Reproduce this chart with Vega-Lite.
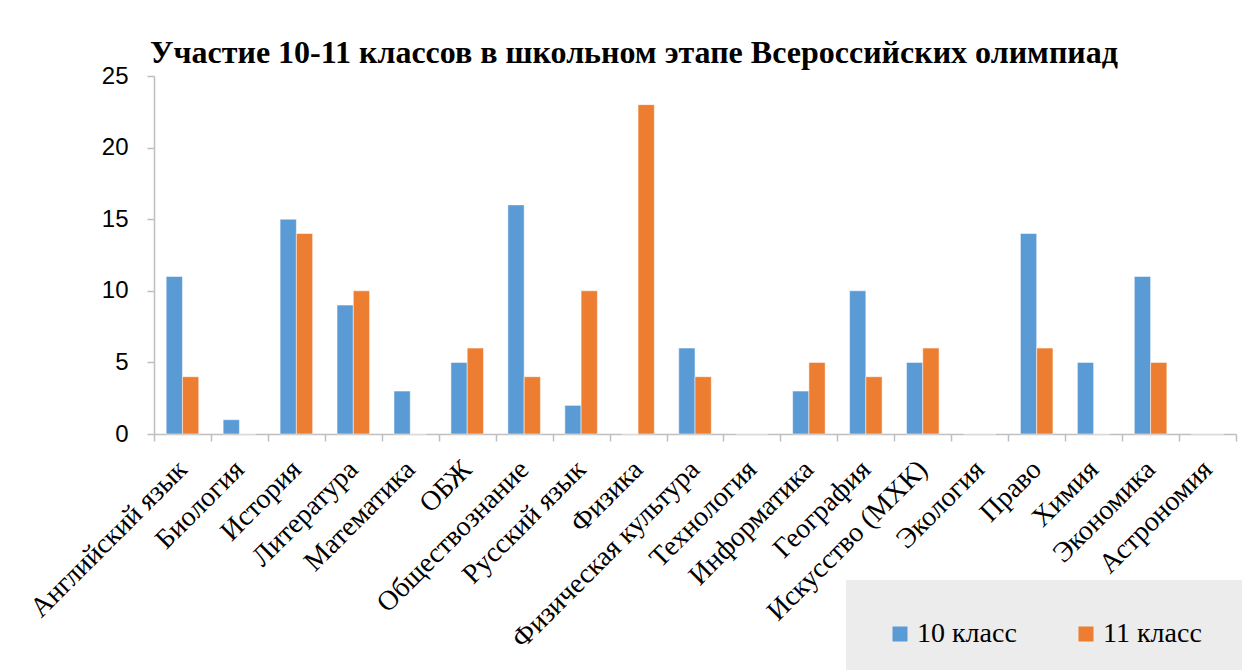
{
  "$schema": "https://vega.github.io/schema/vega-lite/v6.json",
  "width": 1082,
  "height": 358,
  "autosize": {"type": "none"},
  "padding": {"left": 154, "top": 76, "right": 10, "bottom": 236},
  "background": "white",
  "title": {
    "text": "Участие 10-11 классов в школьном этапе Всероссийских олимпиад",
    "anchor": "start",
    "frame": "group",
    "dx": -4,
    "offset": -6,
    "font": "Liberation Serif",
    "fontSize": 32,
    "fontWeight": "bold",
    "color": "#000000"
  },
  "data": {
    "values": [
      {"subject": "Английский язык", "class": "10 класс", "count": 11},
      {"subject": "Английский язык", "class": "11 класс", "count": 4},
      {"subject": "Биология", "class": "10 класс", "count": 1},
      {"subject": "Биология", "class": "11 класс", "count": 0},
      {"subject": "История", "class": "10 класс", "count": 15},
      {"subject": "История", "class": "11 класс", "count": 14},
      {"subject": "Литература", "class": "10 класс", "count": 9},
      {"subject": "Литература", "class": "11 класс", "count": 10},
      {"subject": "Математика", "class": "10 класс", "count": 3},
      {"subject": "Математика", "class": "11 класс", "count": 0},
      {"subject": "ОБЖ", "class": "10 класс", "count": 5},
      {"subject": "ОБЖ", "class": "11 класс", "count": 6},
      {"subject": "Обществознание", "class": "10 класс", "count": 16},
      {"subject": "Обществознание", "class": "11 класс", "count": 4},
      {"subject": "Русский язык", "class": "10 класс", "count": 2},
      {"subject": "Русский язык", "class": "11 класс", "count": 10},
      {"subject": "Физика", "class": "10 класс", "count": 0},
      {"subject": "Физика", "class": "11 класс", "count": 23},
      {"subject": "Физическая культура", "class": "10 класс", "count": 6},
      {"subject": "Физическая культура", "class": "11 класс", "count": 4},
      {"subject": "Технология", "class": "10 класс", "count": 0},
      {"subject": "Технология", "class": "11 класс", "count": 0},
      {"subject": "Информатика", "class": "10 класс", "count": 3},
      {"subject": "Информатика", "class": "11 класс", "count": 5},
      {"subject": "География", "class": "10 класс", "count": 10},
      {"subject": "География", "class": "11 класс", "count": 4},
      {"subject": "Искусство (МХК)", "class": "10 класс", "count": 5},
      {"subject": "Искусство (МХК)", "class": "11 класс", "count": 6},
      {"subject": "Экология", "class": "10 класс", "count": 0},
      {"subject": "Экология", "class": "11 класс", "count": 0},
      {"subject": "Право", "class": "10 класс", "count": 14},
      {"subject": "Право", "class": "11 класс", "count": 6},
      {"subject": "Химия", "class": "10 класс", "count": 5},
      {"subject": "Химия", "class": "11 класс", "count": 0},
      {"subject": "Экономика", "class": "10 класс", "count": 11},
      {"subject": "Экономика", "class": "11 класс", "count": 5},
      {"subject": "Астрономия", "class": "10 класс", "count": 0},
      {"subject": "Астрономия", "class": "11 класс", "count": 0}
    ]
  },
  "mark": {"type": "bar", "stroke": "white", "strokeWidth": 0.5},
  "encoding": {
    "x": {
      "field": "subject",
      "type": "nominal",
      "sort": null,
      "scale": {"paddingInner": 0, "paddingOuter": 0},
      "axis": {
        "title": null,
        "labelAngle": -45,
        "labelAlign": "right",
        "labelBaseline": "middle",
        "labelFont": "Liberation Serif",
        "labelFontSize": 28,
        "labelColor": "#000000",
        "labelPadding": 24,
        "labelLimit": 0,
        "labelOverlap": false,
        "tickBand": "extent",
        "tickSize": 7,
        "tickColor": "#bfbfbf",
        "domainColor": "#bfbfbf",
        "domainWidth": 1.5,
        "tickWidth": 1.5,
        "grid": false
      }
    },
    "xOffset": {
      "field": "class",
      "type": "nominal",
      "scale": {"paddingInner": 0, "paddingOuter": 0.75}
    },
    "y": {
      "field": "count",
      "type": "quantitative",
      "scale": {"domain": [0, 25], "nice": false},
      "axis": {
        "title": null,
        "values": [0, 5, 10, 15, 20, 25],
        "grid": false,
        "labelFont": "Liberation Sans",
        "labelFontSize": 24,
        "labelColor": "#000000",
        "labelPadding": 19,
        "tickSize": 7,
        "tickColor": "#bfbfbf",
        "domainColor": "#bfbfbf",
        "domainWidth": 1.5,
        "tickWidth": 1.5
      }
    },
    "color": {
      "field": "class",
      "type": "nominal",
      "scale": {"domain": ["10 класс", "11 класс"], "range": ["#5b9bd5", "#ed7d31"]},
      "legend": {
        "title": null,
        "orient": "none",
        "legendX": 692,
        "legendY": 504,
        "direction": "horizontal",
        "fillColor": "#ececec",
        "padding": 40,
        "symbolType": "square",
        "symbolSize": 225,
        "symbolStrokeWidth": 0,
        "labelFont": "Liberation Serif",
        "labelFontSize": 28,
        "labelLimit": 0,
        "labelColor": "#000000",
        "labelOffset": 3,
        "columnPadding": 55
      }
    }
  },
  "config": {
    "view": {"stroke": null}
  }
}
